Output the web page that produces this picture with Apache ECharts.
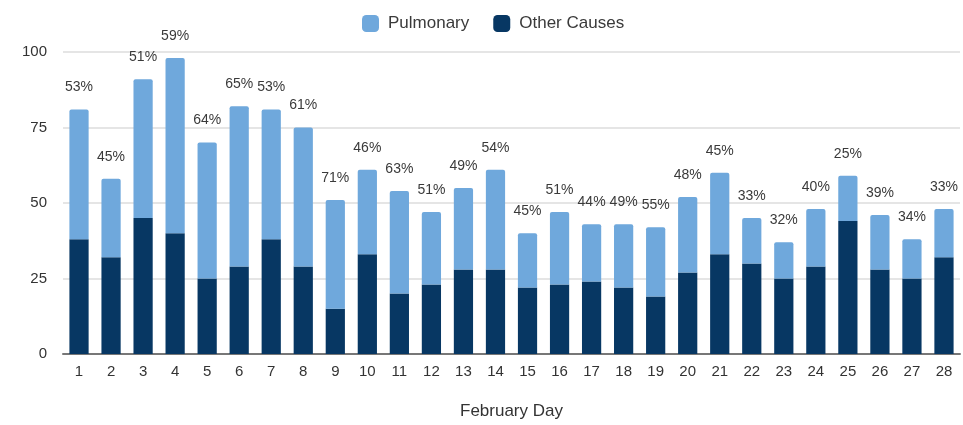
<!DOCTYPE html>
<html>
<head>
<meta charset="utf-8">
<script src="https://cdn.jsdelivr.net/npm/echarts@6/dist/echarts.min.js"></script>
<style>html,body{margin:0;padding:0;background:#fff;}#c{width:963px;height:425px;}</style>
</head>
<body>
<div id="c"></div>
<script>
const days = ['1','2','3','4','5','6','7','8','9','10','11','12','13','14','15','16','17','18','19','20','21','22','23','24','25','26','27','28'];
const otherCauses = [38,32,45,40,25,29,38,29,15,33,20,23,28,28,22,23,24,22,19,27,33,30,25,29,44,28,25,32];
const pulmonary = [43,26,46,58,45,53,43,46,36,28,34,24,27,33,18,24,19,21,23,25,27,15,12,19,15,18,13,16];
const pctLabels = ['53%','45%','51%','59%','64%','65%','53%','61%','71%','46%','63%','51%','49%','54%','45%','51%','44%','49%','55%','48%','45%','33%','32%','40%','25%','39%','34%','33%'];
const yTicks = [0,25,50,75,100];

const chart = echarts.init(document.getElementById('c'), null, {renderer:'canvas'});
chart.setOption({
  animation:false,
  backgroundColor:'#ffffff',
  textStyle:{fontFamily:'"Liberation Sans", Arial, sans-serif'},
  legend:{
    top:10, left:357,
    itemWidth:17, itemHeight:17, itemGap:24,
    icon:'roundRect',
    textStyle:{fontSize:17,color:'#3a3a3a',padding:[0,0,0,4]},
    data:['Pulmonary','Other Causes']
  },
  grid:{left:63, right:3, top:52, bottom:68, containLabel:false},
  xAxis:{
    type:'category', data:days,
    name:'February Day', nameLocation:'middle', nameGap:49,
    nameTextStyle:{fontSize:17,color:'#333'},
    axisLine:{lineStyle:{color:'#777',width:2}},
    axisTick:{show:false},
    axisLabel:{fontSize:15,color:'#333',margin:10}
  },
  yAxis:{
    type:'value', min:yTicks[0], max:yTicks[yTicks.length-1], interval:25,
    axisLine:{show:false}, axisTick:{show:false},
    axisLabel:{fontSize:15,color:'#333',margin:16},
    splitLine:{lineStyle:{color:'#dcdcdc',width:1.5}}
  },
  series:[
    {name:'Other Causes', type:'bar', stack:'t', data:otherCauses, barWidth:'60%',
     itemStyle:{color:'#073763'}},
    {name:'Pulmonary', type:'bar', stack:'t', data:pulmonary, barWidth:'60%',
     itemStyle:{color:'#6fa8dc', borderRadius:[2,2,0,0]},
     label:{show:true, position:'top', distance:15, fontSize:14, color:'#3a3a3a',
       formatter:p=>pctLabels[p.dataIndex]}}
  ]
});
</script>
</body>
</html>
